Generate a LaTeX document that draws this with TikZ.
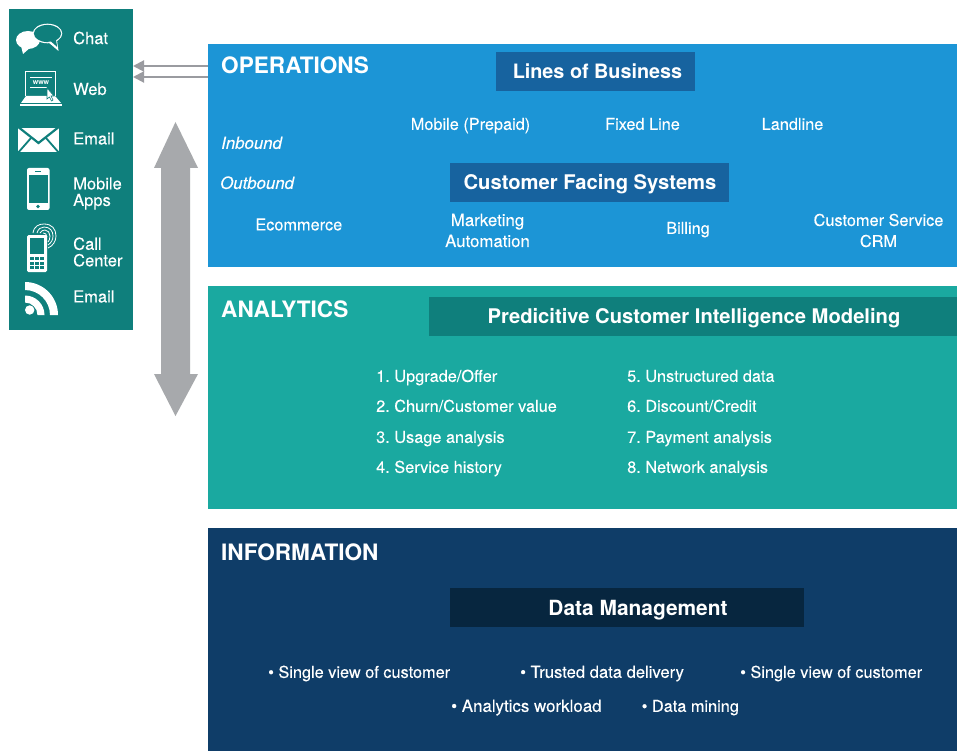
\documentclass[tikz,border=0pt]{standalone}
\usepackage{fontspec}
\setmainfont{TeX Gyre Heros}
\newfontfamily\med[FakeBold=0.15]{TeX Gyre Heros}
\usetikzlibrary{arrows.meta}
\definecolor{cteal}{HTML}{0F7F7C}
\definecolor{copsb}{HTML}{1C95D6}
\definecolor{cana}{HTML}{1AA9A0}
\definecolor{cinfo}{HTML}{0F3D68}
\definecolor{chead}{HTML}{17639F}
\definecolor{chana}{HTML}{0F7F7C}
\definecolor{chinf}{HTML}{07263F}
\definecolor{cgray}{HTML}{A7A9AC}
\definecolor{cgrayd}{HTML}{9A9BA0}
\tikzset{
 panel/.style={inner sep=0,outer sep=0,anchor=north west,minimum width=#1},
 txt/.style={text=white,font=\fontsize{16.3}{16.3}\selectfont\med\frenchspacing,inner sep=0,text height=11.7pt,text depth=0pt},
 ltxt/.style={txt,anchor=west},
 wide/.style={font=\fontsize{16.9}{16.9}\selectfont\med\frenchspacing},
 itxt/.style={ltxt,font=\fontsize{16.8}{16.8}\selectfont\med\itshape},
 ttl/.style={ltxt,font=\fontsize{22.6}{23}\selectfont\bfseries,text height=16.2pt},
 hd/.style={text=white,font=\fontsize{20.2}{20}\selectfont\bfseries,inner sep=0,text height=14.5pt,text depth=0pt},
 multi/.style={txt,align=center,text height=,text depth=,font=\fontsize{16.8}{21}\selectfont\med},
 chan/.style={ltxt,align=left,text height=,text depth=,font=\fontsize{16.5}{16.5}\selectfont\med},
 bar/.style={inner sep=0,minimum height=39pt},
 small/.style={draw=cgrayd,line width=2pt,-{Triangle[length=11pt,width=11pt,fill=cgrayd]}}
}
\begin{document}
\begin{tikzpicture}[x=1pt,y=-1pt]
\useasboundingbox (0,0) rectangle (957,751);
\fill[white] (0,0) rectangle (957,751);
% panels
\node[panel=124pt,minimum height=321pt,fill=cteal] (channels) at (9,9) {};
\node[panel=749pt,minimum height=223pt,fill=copsb] (ops) at (208,44) {};
\node[panel=749pt,minimum height=223pt,fill=cana] (ana) at (208,286) {};
\node[panel=749pt,minimum height=223pt,fill=cinfo] (info) at (208,528) {};
% arrows
\coordinate (o1) at (208,66); \coordinate (o2) at (208,77);
\coordinate (c1) at (133,66); \coordinate (c2) at (133,77);
\draw[small] (o1) -- (c1);
\draw[small] (o2) -- (c2);
\fill[cgray] (175.5,122) -- (198,168) -- (190,168) -- (190,374) -- (198,374) -- (175.5,416) -- (154,374) -- (161,374) -- (161,168) -- (154,168) -- cycle;
% icons: chat
\fill[white] (28,40) ellipse (12 and 9);
\fill[white] (21,46) -- (23,54) -- (31,47) -- cycle;
\fill[white] (47.5,33.5) ellipse (14.8 and 9.8);
\fill[cteal] (47.5,33.5) ellipse (13.6 and 8.6);
\fill[white] (48,42) -- (58.5,51) -- (57,40.5) -- cycle;
\fill[cteal] (50.5,41) -- (57.2,47) -- (56,40) -- cycle;
% web
\draw[white,line width=1pt] (25.5,96) -- (25.5,72) -- (55.5,72) -- (55.5,96);
\fill[white] (30,77) rectangle (52,78);
\fill[white] (30,87.5) rectangle (47,88.5);
\node[font=\fontsize{7}{7}\selectfont\bfseries,text=white,inner sep=0] (www) at (41,82.5) {www};
\fill[white] (26,96) -- (55,96) -- (61,103) -- (21,103) -- cycle;
\fill[white] (20,104) rectangle (62,106);
\fill[white,draw=cteal,line width=.6pt] (47,88) -- (47,99) -- (49.5,97) -- (51.5,101) -- (53,100) -- (51,96) -- (54,96) -- cycle;
% mail
\fill[white] (18,128) -- (59,128) -- (59,152) -- (18,152) -- cycle;
\draw[cteal,line width=2.2pt] (17,126) -- (38.5,143) -- (60,126);
\draw[cteal,line width=1.8pt] (17,154) -- (31,138) (60,154) -- (46,138);
% phone
\fill[white,rounded corners=2pt] (27,168) rectangle (49.5,210);
\fill[cteal] (29,175) rectangle (47.5,203.5);
\fill[cteal] (35,171) rectangle (41,172);
\fill[cteal] (38,206.5) circle (1.8);
% call center
\fill[white,rounded corners=1.5pt] (27,235) rectangle (47,272);
\fill[cteal] (30,238) rectangle (44,254);
\foreach \yy in {257,261.5,266}{\foreach \xx in {30,35,40}{\fill[cteal] (\xx,\yy) rectangle (\xx+4,\yy+3);}}
\draw[white,line width=.8pt] (33,233) .. controls (34,226) and (39,224) .. (44,224) .. controls (52,224) and (56,229) .. (56,236) .. controls (56,241) and (53,246) .. (48,248);
\draw[white,line width=.8pt] (37,233) .. controls (38,229) and (41,227) .. (44,227) .. controls (50,227) and (53,231) .. (53,236) .. controls (53,240) and (51,243) .. (48,245);
\draw[white,line width=.8pt] (40,233) .. controls (41,231) and (43,230) .. (45,230) .. controls (48,230) and (50,233) .. (50,236) .. controls (50,239) and (49,241) .. (48,242);
\draw[white,line width=.8pt] (43,233) .. controls (45,233) and (47,234) .. (47,237);
% rss
\fill[white] (29.7,310) circle (4.7);
\fill[white] (25,282) .. controls (43.2,282) and (58,296.8) .. (58,315) -- (50,315) .. controls (50,301.2) and (38.8,290) .. (25,290) -- cycle;
\fill[white] (25,295.5) .. controls (35.8,295.5) and (44.5,304.2) .. (44.5,315) -- (37.5,315) .. controls (37.5,308.1) and (31.9,302.5) .. (25,302.5) -- cycle;
% channel labels
\node[chan] (t1) at (73,38) {Chat};
\node[chan] (t2) at (73,89) {Web};
\node[chan] (t3) at (73,138.5) {Email};
\node[chan] (t4) at (73,193.5) {Mobile\\Apps};
\node[chan] (t5) at (73,252) {Call\\Center};
\node[chan] (t6) at (73,296.5) {Email};
% operations
\node[ttl] (optitle) at (221,65) {OPERATIONS};
\node[bar,fill=chead,minimum width=199pt] (lob) at (595.5,71.5) {};
\node[hd,font=\fontsize{19.8}{20}\selectfont\bfseries] (lobt) at (597.5,71) {Lines of Business};
\node[txt] (m1) at (470.5,124) {Mobile (Prepaid)};
\node[txt] (m2) at (642.5,124) {Fixed Line};
\node[txt] (m3) at (792.5,124) {Landline};
\node[itxt] (inb) at (221,143) {Inbound};
\node[itxt] (outb) at (220,183) {Outbound};
\node[bar,fill=chead,minimum width=279pt] (cfs) at (589.5,182.5) {};
\node[hd] (cfst) at (590,182) {Customer Facing Systems};
\node[txt] (s1) at (298.8,224.5) {Ecommerce};
\node[multi] (s2) at (487.5,230.5) {Marketing\\Automation};
\node[txt] (s3) at (688,228) {Billing};
\node[multi,font=\fontsize{16.3}{21}\selectfont\med] (s4) at (878.5,230.5) {Customer Service\\CRM};
% analytics
\node[ttl] (antitle) at (221,309) {ANALYTICS};
\node[panel=528pt,minimum height=39pt,fill=chana] (pcbar) at (429,297) {};
\node[hd] (pc) at (694,316) {Predicitive Customer Intelligence Modeling};
\node[ltxt] (a1) at (376,376) {1. Upgrade/Offer};
\node[ltxt] (a2) at (376,406) {2. Churn/Customer value};
\node[ltxt] (a3) at (376,437) {3. Usage analysis};
\node[ltxt] (a4) at (376,467) {4. Service history};
\node[ltxt] (a5) at (627,376) {5. Unstructured data};
\node[ltxt] (a6) at (627,406) {6. Discount/Credit};
\node[ltxt] (a7) at (627,437) {7. Payment analysis};
\node[ltxt] (a8) at (627,467) {8. Network analysis};
% information
\node[ttl] (intitle) at (221,552) {INFORMATION};
\node[bar,fill=chinf,minimum width=354pt] (dm) at (627,607.5) {};
\node[hd,font=\fontsize{20.9}{20}\selectfont\bfseries] (dmt) at (638,608) {Data Management};
\node[ltxt] (i1) at (268,672) {• Single view of customer};
\node[ltxt,font=\fontsize{16.6}{16.6}\selectfont\med] (i2) at (520,672) {• Trusted data delivery};
\node[ltxt] (i3) at (740,672) {• Single view of customer};
\node[ltxt,wide] (i4) at (451,706) {• Analytics workload};
\node[ltxt] (i5) at (641.5,706) {• Data mining};
\end{tikzpicture}
\end{document}
